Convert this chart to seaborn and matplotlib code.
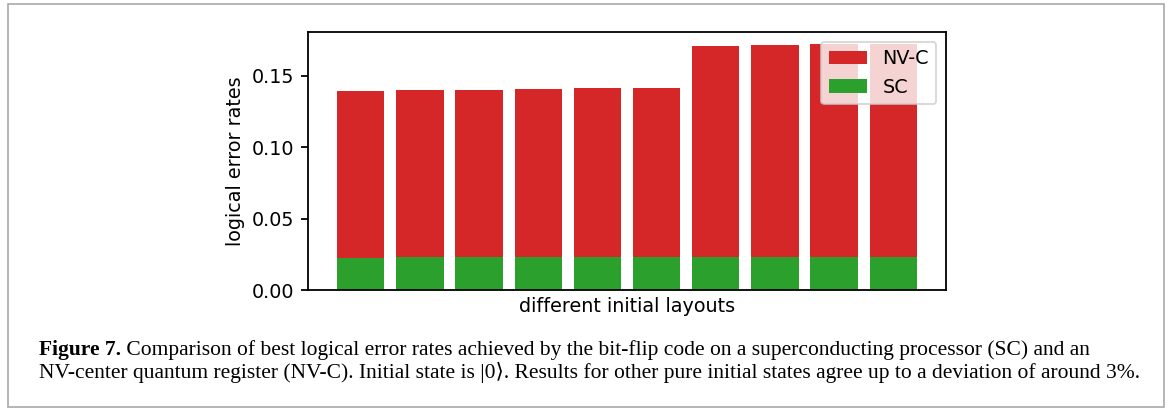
import matplotlib
matplotlib.use("Agg")
import matplotlib.pyplot as plt
import matplotlib.patches as mpatches
import seaborn as sns
import pandas as pd

# Logical error rates per initial layout
layouts = [f"L{i}" for i in range(1, 11)]
nvc_rates = [0.1393, 0.1400, 0.1400, 0.1407, 0.1414, 0.1414, 0.1708, 0.1715, 0.1722, 0.1722]
sc_rates = [0.0226, 0.0231, 0.0231, 0.0231, 0.0231, 0.0231, 0.0231, 0.0231, 0.0231, 0.0231]
platforms = ["NV-C", "SC"]
platform_colors = {"NV-C": "#d62728", "SC": "#2ca02c"}

caption_head = "Figure 7."
caption_line1 = (" Comparison of best logical error rates achieved by the bit-flip code "
                 "on a superconducting processor (SC) and an")
caption_line2 = ("NV-center quantum register (NV-C). Initial state is |0\u27e9. Results for other "
                 "pure initial states agree up to a deviation of around 3%.")

df = pd.DataFrame({
    "layout": layouts * 2,
    "rate": nvc_rates + sc_rates,
    "platform": ["NV-C"] * len(layouts) + ["SC"] * len(layouts),
})

plt.rcParams.update({
    "font.size": 10.6,
    "axes.linewidth": 1.0,
    "xtick.major.width": 1.0,
    "ytick.major.width": 1.0,
    "ytick.major.size": 4.0,
})

W, H, DPI = 1168, 410, 130
fig = plt.figure(figsize=(W / DPI, H / DPI), dpi=DPI)
ax = fig.add_axes([308 / W, 1 - 290 / H, (946 - 308) / W, (290 - 32) / H])

sns.barplot(data=df, x="layout", y="rate", hue="platform", hue_order=platforms,
            palette=platform_colors, dodge=False, saturation=1, errorbar=None,
            width=0.8, ax=ax)

n = len(layouts)
pad = 0.05 * (n - 1 + 0.8)
ax.set_xlim(-0.4 - pad, n - 1 + 0.4 + pad)
ax.set_xticks([])
ax.set_xlabel("different initial layouts")
ax.set_ylabel("logical error rates")
ax.set_yticks([0.0, 0.05, 0.10, 0.15])
ax.set_yticklabels(["0.00", "0.05", "0.10", "0.15"])
handles, labels = ax.get_legend_handles_labels()
ax.legend(handles, labels, loc="upper right")

# Outer frame around the figure and its caption
frame = mpatches.Rectangle((8 / W, 1 - 407 / H), (1164 - 8) / W, (407 - 4) / H,
                           transform=fig.transFigure, fill=False,
                           edgecolor="#b0b0b0", linewidth=1.0)
fig.patches.append(frame)

serif = ["Liberation Serif", "DejaVu Serif"]
cap_size = 11.9
head = fig.text(39 / W, 1 - 355 / H, caption_head, fontsize=cap_size, family=serif,
                fontweight="bold", va="baseline", ha="left")
fig.canvas.draw()
bb = head.get_window_extent(renderer=fig.canvas.get_renderer())
fig.text(bb.x1 / W, 1 - 355 / H, caption_line1, fontsize=cap_size, family=serif,
         va="baseline", ha="left")
fig.text(39 / W, 1 - 378 / H, caption_line2, fontsize=cap_size, family=serif,
         va="baseline", ha="left")

fig.savefig("out.png", dpi=DPI)
